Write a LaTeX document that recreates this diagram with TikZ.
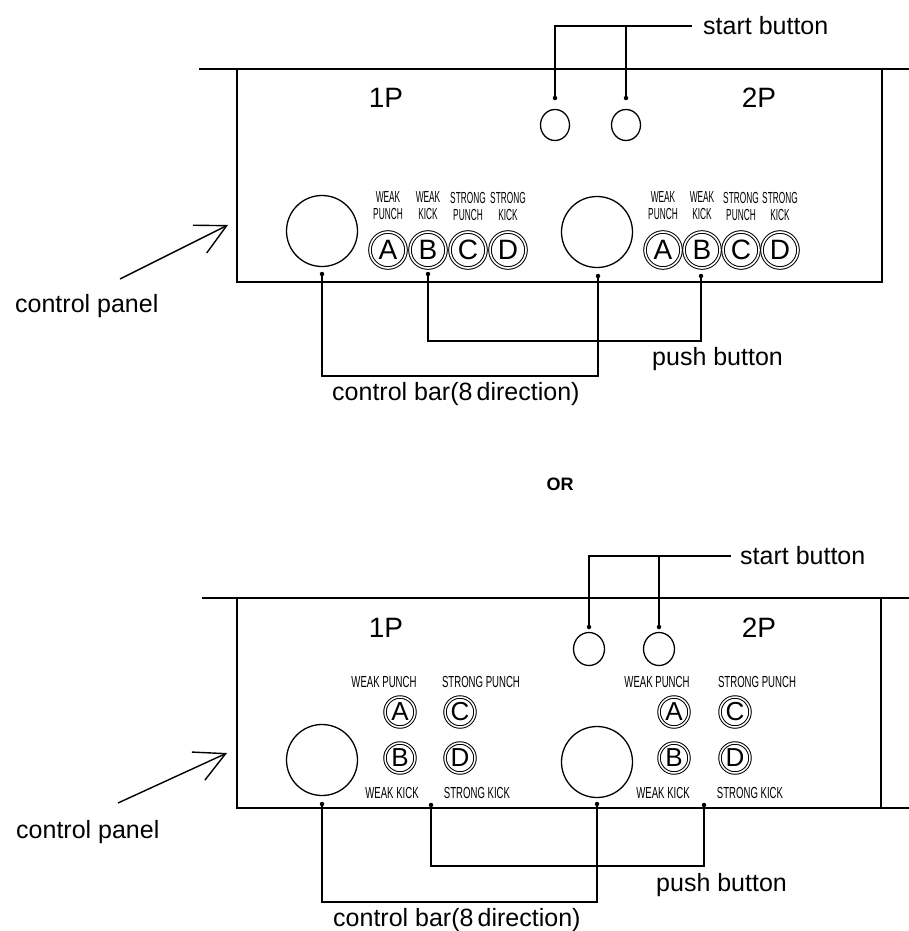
\documentclass[tikz,border=0pt]{standalone}
\usepackage{fontspec}
\setmainfont{Liberation Sans}
\newfontfamily\condA{Liberation Sans}[FakeStretch=0.52]
\newfontfamily\condB{Liberation Sans}[FakeStretch=0.6]
\usetikzlibrary{arrows.meta,shapes.geometric}
\begin{document}
\begin{tikzpicture}[x=1pt,y=-1pt,
  panel/.style={line width=1.8pt},
  lead/.style={line width=1.3pt},
  dotn/.style={circle,fill,inner sep=0pt,minimum size=4.5pt},
  stick/.style={circle,draw,line width=1.3pt,minimum size=71pt,inner sep=0pt},
  startb/.style={ellipse,draw,line width=1.3pt,minimum width=29pt,minimum height=31pt,inner sep=0pt},
  btnbig/.style={circle,draw,double,double distance=1.6pt,line width=1pt,minimum size=36pt,inner sep=0pt,font=\fontsize{28}{28}\selectfont},
  btnsm/.style={circle,draw,double,double distance=1.5pt,line width=1pt,minimum size=30pt,inner sep=0pt,font=\fontsize{26}{26}\selectfont},
  lab/.style={inner sep=0pt,font=\fontsize{25}{30}\selectfont},
  pl/.style={inner sep=0pt,font=\fontsize{28}{30}\selectfont},
  toplab/.style={inner sep=0pt,align=center,font=\condA\fontsize{16}{17}\selectfont},
  botlab/.style={inner sep=0pt,font=\condB\fontsize{16}{16}\selectfont},
  arr/.style={line width=1.4pt,-{Straight Barb[length=30pt,width=31pt]}}
]
\useasboundingbox (0,0) rectangle (909,931);

% ================= TOP PANEL =================
\draw[panel] (199,69) -- (909,69);
\draw[panel] (237,69) -- (237,282) -- (882,282) -- (882,69);

% start buttons
\node[startb] (s1) at (555,125) {};
\node[startb] (s2) at (626,125) {};
\node[dotn] (s1d) at (555,98) {};
\node[dotn] (s2d) at (626,98) {};
\node[lab,anchor=west] (st1) at (703,26) {start button};
\coordinate (st1e) at (692,26);
\draw[lead] (s1d) |- (st1e);
\draw[lead] (s2d) -- (s2d |- st1e);

\node[pl] (p1a) at (386,98) {1P};
\node[pl] (p2a) at (759,98) {2P};

% control bars
\node[stick] (j1) at (322,231) {};
\node[stick] (j2) at (597,232) {};
\node[dotn] (j1d) at (322,274) {};
\node[dotn] (j2d) at (598,276) {};

% buttons 1P
\node[btnbig] (a1) at (388,250) {A};
\node[btnbig] (b1) at (428,250) {B};
\node[btnbig] (c1) at (468,250) {C};
\node[btnbig] (d1) at (508,250) {D};
\node[toplab] at (388,206) {WEAK\\PUNCH};
\node[toplab] at (428,206) {WEAK\\KICK};
\node[toplab] at (468,206) {STRONG\\PUNCH};
\node[toplab] at (508,206) {STRONG\\KICK};
\node[dotn] (b1d) at (428,274) {};

% buttons 2P
\node[btnbig] (a2) at (663,250) {A};
\node[btnbig] (b2) at (702,250) {B};
\node[btnbig] (c2) at (741,250) {C};
\node[btnbig] (d2) at (780,250) {D};
\node[toplab] at (663,206) {WEAK\\PUNCH};
\node[toplab] at (702,206) {WEAK\\KICK};
\node[toplab] at (741,206) {STRONG\\PUNCH};
\node[toplab] at (780,206) {STRONG\\KICK};
\node[dotn] (b2d) at (701,276) {};

% connectors
\coordinate (cbT) at (0,376);
\coordinate (pbT) at (0,341);
\draw[lead] (j1d) -- (j1d |- cbT) -| (j2d);
\draw[lead] (b1d) -- (b1d |- pbT) -| (b2d);
\node[lab,anchor=base west] (pbtxt1) at (652,365) {push button};
\node[lab,anchor=base west] (cbtxt1) at (332,400) {control bar(8\,direction)};

% control panel arrow
\node[lab,anchor=base west] (cp1) at (15,312) {control panel};
\coordinate (cp1t) at (120,279);
\coordinate (cp1h) at (228,225);
\draw[arr] (cp1t) -- (cp1h);

% ================= OR =================
\node[inner sep=0pt,font=\bfseries\fontsize{18}{18}\selectfont] (or) at (560,484) {OR};

% ================= BOTTOM PANEL =================
\draw[panel] (202,598) -- (909,598);
\draw[panel] (237,598) -- (237,808) -- (909,808);
\draw[panel] (881,598) -- (881,808);

% start buttons
\node[startb,minimum width=31pt,minimum height=33pt] (s3) at (589,649) {};
\node[startb,minimum width=31pt,minimum height=33pt] (s4) at (659,649) {};
\node[dotn] (s3d) at (589,627) {};
\node[dotn] (s4d) at (659,627) {};
\node[lab,anchor=west] (st2) at (740,556) {start button};
\coordinate (st2e) at (731,556);
\draw[lead] (s3d) |- (st2e);
\draw[lead] (s4d) -- (s4d |- st2e);

\node[pl] (p1b) at (386,628) {1P};
\node[pl] (p2b) at (759,628) {2P};

% control bars
\node[stick] (j3) at (322,760) {};
\node[stick] (j4) at (597,762) {};
\node[dotn] (j3d) at (322,804) {};
\node[dotn] (j4d) at (597,804) {};

% buttons 1P
\node[btnsm] (a3) at (400,712) {A};
\node[btnsm] (c3) at (460,712) {C};
\node[btnsm] (b3) at (400,758) {B};
\node[btnsm] (d3) at (460,758) {D};
\node[botlab] at (384,682) {WEAK PUNCH};
\node[botlab] at (481,682) {STRONG PUNCH};
\node[botlab] at (392,793) {WEAK KICK};
\node[botlab] at (477,793) {STRONG KICK};
\node[dotn] (b3d) at (431,805) {};

% buttons 2P
\node[btnsm] (a4) at (674,712) {A};
\node[btnsm] (c4) at (735,712) {C};
\node[btnsm] (b4) at (674,758) {B};
\node[btnsm] (d4) at (735,758) {D};
\node[botlab] at (657,682) {WEAK PUNCH};
\node[botlab] at (757,682) {STRONG PUNCH};
\node[botlab] at (663,793) {WEAK KICK};
\node[botlab] at (750,793) {STRONG KICK};
\node[dotn] (b4d) at (704,805) {};

% connectors
\coordinate (cbB) at (0,902);
\coordinate (pbB) at (0,866);
\draw[lead] (j3d) -- (j3d |- cbB) -| (j4d);
\draw[lead] (b3d) -- (b3d |- pbB) -| (b4d);
\node[lab,anchor=base west] (pbtxt2) at (656,891) {push button};
\node[lab,anchor=base west] (cbtxt2) at (333,926) {control bar(8\,direction)};

% control panel arrow
\node[lab,anchor=base west] (cp2) at (16,838) {control panel};
\coordinate (cp2t) at (118,803);
\coordinate (cp2h) at (227,753);
\draw[arr] (cp2t) -- (cp2h);
\end{tikzpicture}
\end{document}
